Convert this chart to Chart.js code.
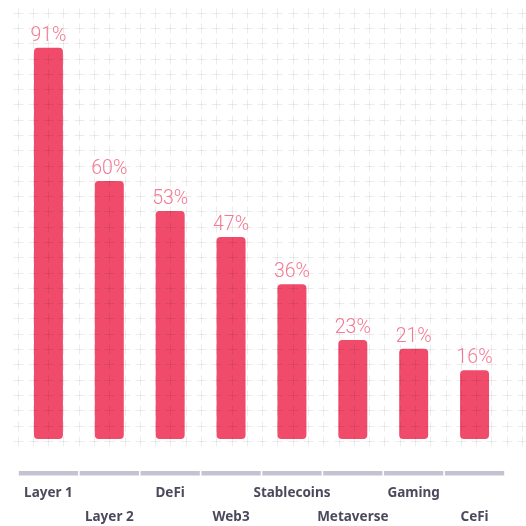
<!DOCTYPE html>
<html>
<head>
<meta charset="utf-8">
<script src="https://cdn.jsdelivr.net/npm/chart.js@4"></script>
<style>
  html, body { margin: 0; padding: 0; background: #ffffff; }
  #wrap { width: 526px; height: 526px; }
</style>
</head>
<body>
<div id="wrap"><canvas id="c" width="526" height="526"></canvas></div>
<script>
// Share of respondents per sector
const categories = ['Layer 1', 'Layer 2', 'DeFi', 'Web3', 'Stablecoins', 'Metaverse', 'Gaming', 'CeFi'];
const shares = [91, 60, 53, 47, 36, 23, 21, 16];

const BAR_COLOR = '#f04b6b';
const VALUE_COLOR = '#f27a93';
const LABEL_COLOR = '#4a4a5c';
const AXIS_COLOR = '#c5c3d1';

// Light "+" pattern laid over the plot
const plusGrid = {
  id: 'plusGrid',
  afterDatasetsDraw(chart) {
    const ctx = chart.ctx;
    const step = 15.29;
    ctx.save();
    ctx.strokeStyle = 'rgba(0,0,0,0.075)';
    ctx.lineWidth = 1;
    ctx.beginPath();
    for (let r = 0; r <= 28; r++) {
      const y = Math.round(12.7 + r * step) + 0.5;
      for (let k = 0; k <= 33; k++) {
        const x = Math.round(17.5 + k * step) + 0.5;
        ctx.moveTo(x - 5, y); ctx.lineTo(x + 5, y);
        ctx.moveTo(x, y - 5); ctx.lineTo(x, y + 5);
      }
    }
    ctx.stroke();
    ctx.restore();
  }
};

// Percent labels above bars, axis segments and staggered category names
const decorations = {
  id: 'decorations',
  afterDraw(chart) {
    const ctx = chart.ctx;
    const xs = chart.scales.x;
    const meta = chart.getDatasetMeta(0);
    const area = chart.chartArea;
    const half = (xs.getPixelForValue(1) - xs.getPixelForValue(0)) / 2;
    ctx.save();
    ctx.textAlign = 'center';

    ctx.font = '300 19.5px Roboto, "Noto Sans", sans-serif';
    ctx.fillStyle = VALUE_COLOR;
    ctx.textBaseline = 'alphabetic';
    meta.data.forEach((bar, i) => {
      ctx.fillText(shares[i] + '%', bar.x, bar.y - 7);
    });

    ctx.fillStyle = AXIS_COLOR;
    categories.forEach((c, i) => {
      const cx = xs.getPixelForValue(i);
      ctx.fillRect(cx - half + 0.8, area.bottom + 32, half * 2 - 1.6, 4.5);
    });

    ctx.font = 'bold 13.5px "Noto Sans", sans-serif';
    ctx.fillStyle = LABEL_COLOR;
    ctx.textBaseline = 'middle';
    categories.forEach((c, i) => {
      const cx = xs.getPixelForValue(i);
      const y = area.bottom + (i % 2 === 0 ? 54 : 78);
      ctx.fillText(c, cx, y);
    });
    ctx.restore();
  }
};

new Chart(document.getElementById('c'), {
  type: 'bar',
  data: {
    labels: categories,
    datasets: [{
      data: shares,
      backgroundColor: BAR_COLOR,
      borderRadius: 4,
      borderSkipped: false,
      categoryPercentage: 1,
      barPercentage: 0.476
    }]
  },
  options: {
    responsive: false,
    animation: false,
    devicePixelRatio: 1,
    layout: { padding: { left: 18, right: 21, top: 9, bottom: 87 } },
    plugins: { legend: { display: false }, tooltip: { enabled: false } },
    scales: {
      x: { display: false },
      y: { display: false, min: 0, max: 100 }
    }
  },
  plugins: [plusGrid, decorations]
});
</script>
</body>
</html>
